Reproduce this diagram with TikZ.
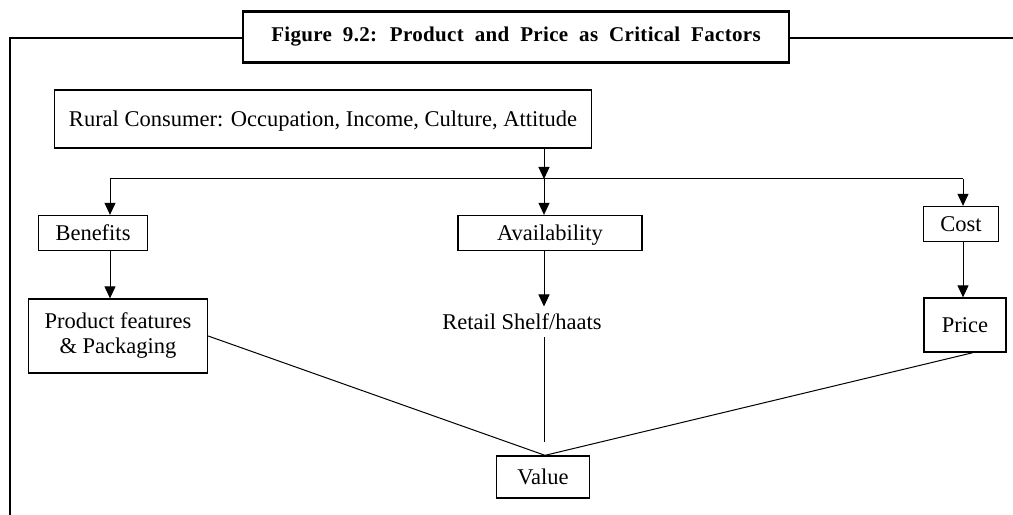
\documentclass[tikz,border=0pt]{standalone}
\usepackage{fontspec}
\setmainfont{Liberation Serif}
\usepackage{tikz}
\usetikzlibrary{arrows.meta}
\newcommand{\tfig}[1]{{\bfseries\addfontfeature{LetterSpace=1.5}\spaceskip=11bp #1}}

\begin{document}
\begin{tikzpicture}[>={Triangle[width=11bp,length=12bp]}, line width=1bp]
      \tikzstyle{every node}=[font=\fontsize{22.5bp}{25bp}\selectfont, inner sep=0pt]
      \tikzstyle{box}=[draw, line width=1.3bp, align=center]
      \tikzstyle{oneline}=[text height=17.5bp, text depth=2.5bp]
      \useasboundingbox (0bp,0bp) rectangle (1013bp,515bp);
%%
\node (title) at (516bp,478bp) [draw,line width=2.2bp,minimum width=546bp,minimum height=51bp,font=\fontsize{21bp}{23bp}\selectfont] {\tfig{Figure 9.2: Product and Price as Critical Factors}};
  \node (consumer) at (323bp,396bp) [box,oneline,minimum width=537bp,minimum height=58bp] {Rural Consumer: Occupation, Income, Culture, Attitude};
  \node (benefits) at (93bp,282bp) [box,oneline,minimum width=109bp,minimum height=35bp] {Benefits};
  \node (avail) at (550bp,282bp) [box,oneline,minimum width=184bp,minimum height=35bp] {Availability};
  \node (cost) at (961bp,291bp) [box,oneline,minimum width=75bp,minimum height=35bp] {Cost};
  \node (product) at (118bp,179bp) [box,minimum width=179bp,minimum height=74bp] {Product features\\ \& Packaging};
  \node (retail) at (522bp,193bp) [oneline,minimum height=30bp] {Retail Shelf/haats};
  \node (price) at (965bp,190bp) [box,oneline,minimum width=82bp,minimum height=54bp] {Price};
  \node (value) at (543bp,38bp) [box,oneline,minimum width=93bp,minimum height=42bp] {Value};
  \coordinate (split) at (544bp,336bp);
  \coordinate (bl) at (110bp,336bp);
  \coordinate (br) at (963bp,336bp);
  \coordinate (frame) at (10bp,477bp);
  \draw [line width=2.2bp] (title.west |- frame) -- (frame) -- (frame |- 0bp,0bp);
  \draw [line width=2.2bp] (title.east |- frame) -- (1013bp,477bp);
  \draw [->] (consumer.south -| split) -- (split);
  \draw (bl) -- (br);
  \draw [->] (bl) -- (bl |- benefits.north);
  \draw [->] (split) -- (split |- avail.north);
  \draw [->] (br) -- (br |- cost.north);
  \draw [->] (benefits.south -| bl) -- (product.north -| bl);
  \draw [->] (avail.south -| split) -- (retail.north -| split);
  \draw [->] (cost.south -| br) -- (price.north -| br);
  \draw [shorten >=13bp] (retail.south -| split) -- (value.north -| split);
  \draw (product.east) -- ([xshift=2bp]value.north);
  \draw ([xshift=8bp]price.south) -- ([xshift=2bp]value.north);
%

    \end{tikzpicture}
\end{document}
